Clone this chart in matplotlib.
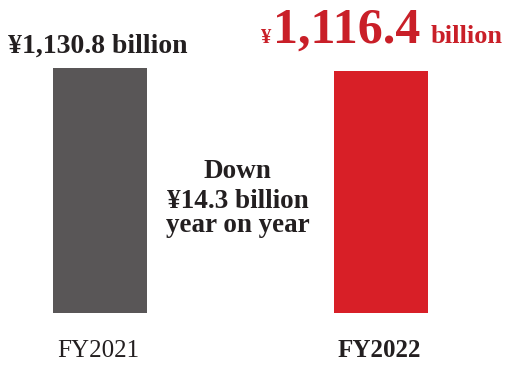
import matplotlib
matplotlib.use("Agg")
import matplotlib.pyplot as plt
import matplotlib.transforms as mtransforms

# Net sales by fiscal year (billions of yen)
years = ["FY2021", "FY2022"]
values = [1130.8, 1116.4]
yoy_change = 14.3  # reported decrease, billions of yen
bar_colors = ["#595657", "#d81f27"]

SERIF = ["Liberation Serif", "DejaVu Serif"]
DARK = "#231f20"
RED = "#c91f28"

fig = plt.figure(figsize=(5.16, 3.65), dpi=100)
ax = fig.add_axes([0, 52 / 365, 1, 313 / 365])
ax.set_xlim(-0.356, 1.48)
ax.set_ylim(0, 1444.6)
ax.axis("off")

ax.bar(range(len(values)), values, width=0.335, color=bar_colors)

# Category labels under the bars
for i, (lab, w) in enumerate(zip(years, ["normal", "bold"])):
    ax.annotate(lab, xy=(i, 0), xytext=(-1, -44 * 0.72), textcoords="offset points",
                ha="center", va="baseline", fontsize=18, fontweight=w,
                family=SERIF, color=DARK)

# Previous-year value label
ax.annotate(f"¥{values[0]:,.1f} billion", xy=(0, values[0]), xytext=(-2, 15 * 0.72),
            textcoords="offset points", ha="center", va="baseline",
            fontsize=20, fontweight="bold", family=SERIF, color=DARK)

# Current-year value label: small yen sign, large figure, small unit,
# laid out as one group centred over the bar
parts = [("¥", 15, 0), (f"{values[1]:,.1f}", 36, 3), ("billion", 19, 10)]
base_disp = ax.transData.transform((1, values[1]))[1] + 28
texts = []
for s, size, _ in parts:
    texts.append(fig.text(0, base_disp, s, ha="left", va="baseline", transform=None,
                          fontsize=size, fontweight="bold", family=SERIF, color=RED))
fig.canvas.draw()
r = fig.canvas.get_renderer()
widths = [t.get_window_extent(r).width for t in texts]
total = sum(widths) + sum(g for _, _, g in parts)
x = ax.transData.transform((1, 0))[0] - total / 2
for t, w, (_, _, gap) in zip(texts, widths, parts):
    x += gap
    t.set_x(x)
    x += w

# Year-on-year change note between the bars
note = ["Down", f"¥{yoy_change:.1f} billion", "year on year"]
baselines = [178, 208, 232]
trans = mtransforms.blended_transform_factory(ax.transData, fig.transFigure)
for line, yb in zip(note, baselines):
    ax.text(0.49, 1 - yb / 365, line, transform=trans, ha="center", va="baseline",
            fontsize=19.5, fontweight="bold", family=SERIF, color=DARK)

fig.savefig("out.png", dpi=100)
